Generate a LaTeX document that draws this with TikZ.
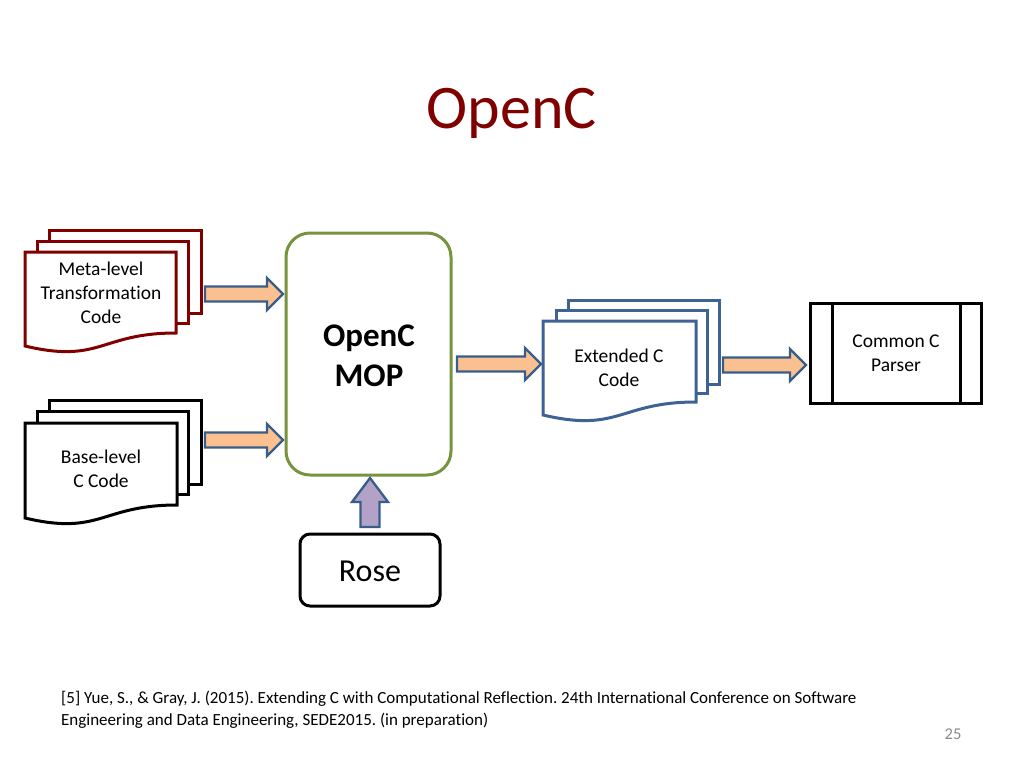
\documentclass[tikz,border=0pt]{standalone}
\usepackage{fontspec}
\setmainfont[Ligatures=CommonOff]{Carlito}
\frenchspacing
\definecolor{titlered}{RGB}{128,0,0}
\definecolor{docred}{RGB}{128,0,0}
\definecolor{docblue}{RGB}{62,98,148}
\definecolor{arrowline}{RGB}{56,93,138}
\definecolor{arrowfill}{RGB}{250,192,144}
\definecolor{purplefill}{RGB}{179,162,199}
\definecolor{mopgreen}{RGB}{119,147,60}
\definecolor{pagegray}{RGB}{137,137,137}
\tikzset{
  sheet/.style={fill=white, line width=3pt, line join=miter},
  blockarrow/.style={fill=arrowfill, draw=arrowline, line width=2.3pt, line join=miter},
  uparrow/.style={fill=purplefill, draw=arrowline, line width=2.3pt, line join=miter},
  lbl/.style={font=\fontsize{19.5}{24}\selectfont, align=center, inner sep=0pt},
}
\newcommand\rblockarrow[5]{% x0, xhead, xtip, cy, name
  \draw[blockarrow] (#1,#4-7.5) -- (#2,#4-7.5) -- (#2,#4-16) -- (#3,#4) -- (#2,#4+16) -- (#2,#4+7.5) -- (#1,#4+7.5) -- cycle;
}
\begin{document}
\begin{tikzpicture}[x=1pt,y=-1pt]
\useasboundingbox (0,0) rectangle (1024,768);

% title
\node[text=titlered, font=\fontsize{62}{66}\selectfont, inner sep=0pt] (title) at (512,113) {OpenC};

% ---- Meta-level document stack
\draw[sheet, draw=docred] (49,230) rectangle (201,313);
\draw[sheet, draw=docred] (37,241) rectangle (188,323);
\draw[sheet, draw=docred] (25,252) -- (176,252) -- (176,333) .. controls (100.5,333) and (100.5,364) .. (25,346) -- cycle;
\node[lbl] (meta) at (101,293) {Meta-level\\Transformation\\Code};

% ---- Base-level document stack
\draw[sheet, draw=black] (49,400) rectangle (201,484);
\draw[sheet, draw=black] (37,411) rectangle (188,494);
\draw[sheet, draw=black] (25,423) -- (177,423) -- (177,505) .. controls (101,505) and (101,536) .. (25,518) -- cycle;
\node[lbl] (base) at (101,469) {Base-level\\C Code};

% ---- OpenC MOP
\draw[line width=3pt, draw=mopgreen, rounded corners=24pt, fill=white] (286,233) rectangle (451,475);
\node[font=\fontsize{33}{40}\selectfont\bfseries, align=center, inner sep=0pt] (mop) at (369,356) {OpenC\\MOP};

% ---- Extended C document stack
\draw[sheet, draw=docblue] (568,300) rectangle (719,384);
\draw[sheet, draw=docblue] (556,310) rectangle (707,393);
\draw[sheet, draw=docblue] (543,321) -- (696,321) -- (696,402) .. controls (619.5,402) and (619.5,433) .. (543,415) -- cycle;
\node[lbl] (ext) at (619,368) {Extended C\\Code};

% ---- Common C Parser
\draw[line width=3pt, fill=white] (810,303) rectangle (981,403);
\draw[line width=3pt] (832,303) -- (832,403);
\draw[line width=3pt] (960,303) -- (960,403);
\node[lbl] (parser) at (896,353) {Common C\\Parser};

% ---- Rose
\draw[line width=3pt, rounded corners=10pt, fill=white] (300,534) rectangle (440,606);
\node[font=\fontsize{32}{38}\selectfont, inner sep=0pt] (rose) at (370,571) {Rose};

% ---- block arrows
\rblockarrow{205}{267}{283}{294}{a1}
\rblockarrow{205}{267}{283}{440}{a2}
\rblockarrow{457}{525}{541}{364}{a3}
\rblockarrow{723}{790}{806}{365}{a4}
\draw[uparrow] (360.5,527) -- (360.5,502) -- (352,502) -- (370,478) -- (388,502) -- (379.5,502) -- (379.5,527) -- cycle;

% ---- footnote
\node[anchor=north west, align=left, inner sep=0pt, font=\fontsize{17}{21.5}\selectfont] (ref) at (61,691)
  {[5] Yue, S., \& Gray, J. (2015). Extending C with Computational Reflection. 24th International Conference on Software\\
   Engineering and Data Engineering, SEDE2015. (in preparation)};
\node[text=pagegray, font=\fontsize{16.5}{18}\selectfont, inner sep=0pt] (page) at (953,734) {25};
\end{tikzpicture}
\end{document}
